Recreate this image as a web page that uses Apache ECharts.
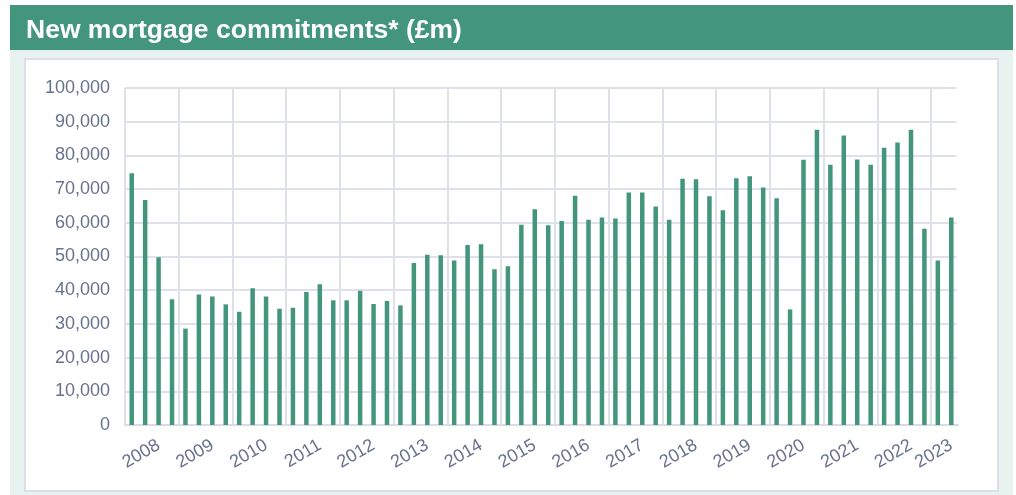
<!DOCTYPE html>
<html>
<head>
<meta charset="utf-8">
<script src="https://cdn.jsdelivr.net/npm/echarts@6/dist/echarts.min.js"></script>
<style>
  html, body { margin: 0; padding: 0; background: #ffffff; }
  #main { width: 1016px; height: 495px; }
</style>
</head>
<body>
<div id="main"></div>
<script>
// quarterly, 2008 Q1 .. 2023 Q2
var years = ['2008', '2009', '2010', '2011', '2012', '2013', '2014', '2015',
  '2016', '2017', '2018', '2019', '2020', '2021', '2022', '2023'];
var quarters = ['Q1', 'Q2', 'Q3', 'Q4'];
var commitments = [
  74700, 66800, 49800, 37300,
  28600, 38700, 38100, 35800,
  33600, 40600, 38100, 34500,
  34800, 39500, 41800, 37000,
  37000, 39800, 35900, 36800,
  35500, 48100, 50500, 50400,
  48800, 53400, 53600, 46200,
  47100, 59400, 64000, 59300,
  60500, 68000, 60900, 61600,
  61300, 69000, 69000, 64800,
  60900, 73100, 72900, 67900,
  63700, 73200, 73800, 70500,
  67300, 34300, 78700, 87600,
  77200, 85900, 78800, 77200,
  82300, 83800, 87600, 58200,
  48800, 61600
];
var yTicks = [0, 10000, 20000, 30000, 40000, 50000, 60000, 70000, 80000, 90000, 100000];

var categories = [];
for (var i = 0; i < commitments.length; i++) {
  categories.push(quarters[i % 4] + ' ' + years[Math.floor(i / 4)]);
}
var lastIdx = categories.length - 1;

function fmt(v) {
  return String(v).replace(/\B(?=(\d{3})+(?!\d))/g, ',');
}

var chart = echarts.init(document.getElementById('main'), null, { renderer: 'canvas' });

var option = {
  backgroundColor: '#ffffff',
  animation: false,
  graphic: [
    { type: 'rect', z: -10, shape: { x: 10, y: 50, width: 1003, height: 445 }, style: { fill: '#e8f2ef' } },
    { type: 'rect', z: -10, shape: { x: 10, y: 5, width: 1003, height: 45 }, style: { fill: '#43957c' } },
    { type: 'rect', z: -9, shape: { x: 25, y: 59, width: 973, height: 432 },
      style: { fill: '#ffffff', stroke: '#dcdfe7', lineWidth: 2 } },
    // hide the closing band edge the category axis adds at the right
    { type: 'rect', z: 1, shape: { x: 956.6, y: 86, width: 4, height: 338 }, style: { fill: '#ffffff' } }
  ],
  title: {
    text: 'New mortgage commitments* (£m)',
    left: 21,
    top: 12,
    textStyle: {
      color: '#ffffff',
      fontFamily: 'Liberation Sans, Arial, sans-serif',
      fontWeight: 'bold',
      fontSize: 26.5
    }
  },
  grid: {
    left: 125,
    right: 58,
    top: 88,
    bottom: 70,
    containLabel: false
  },
  xAxis: {
    type: 'category',
    data: categories,
    boundaryGap: true,
    axisTick: { show: false },
    axisLine: { lineStyle: { color: '#d9dce4', width: 2 } },
    axisLabel: {
      interval: function (idx) {
        return idx === lastIdx || (idx % 4 === 2 && idx < lastIdx - 1);
      },
      formatter: function (val) { return val.split(' ')[1]; },
      rotate: 30,
      margin: 19,
      color: '#67728e',
      fontFamily: 'Liberation Sans, Arial, sans-serif',
      fontSize: 18
    },
    splitLine: {
      show: true,
      interval: function (idx) { return idx % 4 === 0; },
      lineStyle: { color: '#dfe1e8', width: 2 }
    }
  },
  yAxis: {
    type: 'value',
    min: yTicks[0],
    max: yTicks[yTicks.length - 1],
    interval: yTicks[1] - yTicks[0],
    axisLine: { show: false },
    axisTick: { show: false },
    axisLabel: {
      margin: 15,
      color: '#67728e',
      fontFamily: 'Liberation Sans, Arial, sans-serif',
      fontSize: 18,
      formatter: fmt
    },
    splitLine: { lineStyle: { color: '#dfe1e8', width: 2 } }
  },
  series: [{
    name: 'New mortgage commitments',
    type: 'bar',
    data: commitments,
    barWidth: 4.5,
    itemStyle: { color: '#43967b' }
  }]
};

chart.setOption(option);
</script>
</body>
</html>
